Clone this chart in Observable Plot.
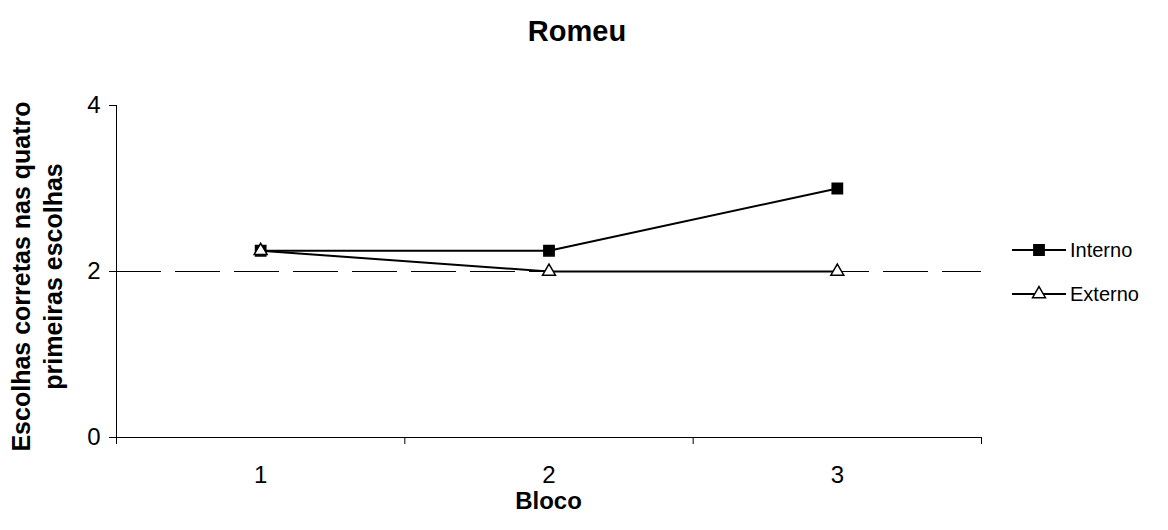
<!DOCTYPE html>
<html>
<head>
<meta charset="utf-8">
<script src="https://cdn.jsdelivr.net/npm/d3@7"></script>
<script src="https://cdn.jsdelivr.net/npm/@observablehq/plot@0.6"></script>
<style>
  body { margin: 0; background: #fff; font-family: "Liberation Sans", Arial, sans-serif; }
  #chart { position: relative; width: 1168px; height: 530px; }
  #chart svg.plot { position: absolute; left: 0; top: 0; }
  #title { position: absolute; left: 0; width: 1154px; top: 15px; text-align: center;
           font-weight: bold; font-size: 29px; color: #000; }
  #xlabel { position: absolute; left: 116px; width: 865px; top: 487px; text-align: center;
            font-weight: bold; font-size: 24px; color: #000; }
  #legend { position: absolute; left: 1012px; top: 228px; font-size: 20px; color: #000; }
  #legend .row { display: flex; align-items: center; height: 44px; }
  #legend svg { margin-right: 4px; }
</style>
</head>
<body>
<div id="chart">
  <div id="title">Romeu</div>
  <div id="xlabel">Bloco</div>
  <div id="legend"></div>
</div>
<script>
// Bloco (x) and mean correct choices among the first four choices (y)
const blocos = [1, 2, 3];
const interno = [2.25, 2.25, 3];
const externo = [2.25, 2, 2];
const acaso = 2;                 // chance level, dashed reference line
const yTicks = [0, 2, 4];
const bordas = [0.5, 1.5, 2.5, 3.5]; // category boundaries where tick marks sit
const yLabel = "Escolhas corretas nas quatro\nprimeiras escolhas";

const series = [
  {name: "Interno", values: interno, symbol: "square", fill: "#000", r: 5.8},
  {name: "Externo", values: externo, symbol: "triangle", fill: "#fff", r: 4.8}
];

const rows = series.flatMap(s => blocos.map((b, i) => ({serie: s.name, bloco: b, valor: s.values[i]})));

const marks = [
  Plot.ruleY([acaso], {stroke: "#000", strokeWidth: 1, strokeDasharray: "45,14"}),
  Plot.ruleX([bordas[0]], {stroke: "#000", strokeWidth: 1}),
  Plot.ruleY([0], {stroke: "#000", strokeWidth: 1}),
  // tick marks: y ticks pointing left, x ticks at category boundaries pointing down
  Plot.axisY({ticks: yTicks, tickSize: 7, tickFormat: () => "", label: null}),
  Plot.axisX({ticks: bordas, tickSize: 7, tickFormat: () => "", label: null}),
  // tick labels
  Plot.text(yTicks, {x: () => bordas[0], y: d => d, text: d => String(d), textAnchor: "end",
                     dx: -16, fontSize: 24}),
  Plot.text(blocos, {x: d => d, y: () => 0, text: d => String(d), lineAnchor: "middle",
                     dy: 38, fontSize: 24}),
  Plot.text([yLabel], {frameAnchor: "left", dx: -81, dy: 5, rotate: -90, fontWeight: "bold",
                        fontSize: 25, lineHeight: 1.3, textAnchor: "middle", lineAnchor: "middle"})
];

for (const s of series) {
  const d = rows.filter(r => r.serie === s.name);
  marks.push(Plot.line(d, {x: "bloco", y: "valor", stroke: "#000", strokeWidth: 2}));
  marks.push(Plot.dot(d, {x: "bloco", y: "valor", symbol: s.symbol, r: s.r, fill: s.fill,
                          stroke: "#000", strokeWidth: 1.5}));
}

const chart = Plot.plot({
  width: 1168,
  height: 530,
  marginLeft: 116,
  marginRight: 187,
  marginTop: 105,
  marginBottom: 93,
  x: {domain: [bordas[0], bordas[bordas.length - 1]]},
  y: {domain: [0, 4]},
  style: {fontSize: "20px", fontFamily: "'Liberation Sans', Arial, sans-serif", color: "#000", background: "transparent"},
  marks
});
chart.classList.add("plot");
document.getElementById("chart").prepend(chart);

// Legend: line segment with marker, then series name
const legend = d3.select("#legend");
for (const s of series) {
  const row = legend.append("div").attr("class", "row");
  const svg = row.append("svg").attr("width", 54).attr("height", 20);
  svg.append("line").attr("x1", 0).attr("x2", 54).attr("y1", 10).attr("y2", 10)
     .attr("stroke", "#000").attr("stroke-width", 2);
  svg.append("path")
     .attr("transform", "translate(27,10)")
     .attr("d", d3.symbol(s.symbol === "square" ? d3.symbolSquare : d3.symbolTriangle, Math.PI * s.r * s.r)())
     .attr("fill", s.fill).attr("stroke", "#000").attr("stroke-width", 1.5);
  row.append("span").text(s.name);
}
</script>
</body>
</html>
